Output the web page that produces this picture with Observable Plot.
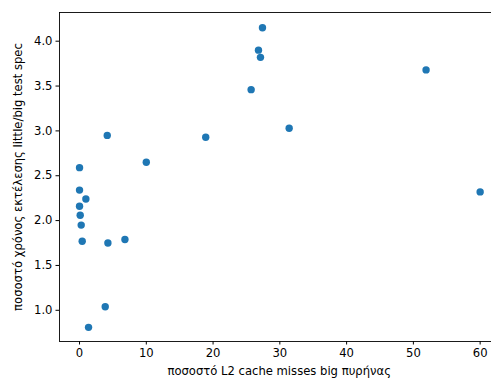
<!DOCTYPE html>
<html>
<head>
<meta charset="utf-8">
<script src="https://cdn.jsdelivr.net/npm/d3@7"></script>
<script src="https://cdn.jsdelivr.net/npm/@observablehq/plot@0.6"></script>
<style>
  html, body { margin: 0; padding: 0; background: #fff; overflow: hidden; }
  #chart svg { display: block; font-family: "DejaVu Sans", sans-serif; }
</style>
</head>
<body>
<div id="chart"></div>
<script>
// L2 cache miss rate on the big core (%) vs little/big execution-time ratio
const missRate = [0.0, 0.0, 0.95, 4.15, 10.0, 18.9, 25.7, 27.4, 26.8, 27.1, 31.4, 51.9, 60.0, 0.0, 0.1, 0.25, 0.4, 4.25, 6.8, 3.85, 1.35];
const timeRatio = [2.59, 2.34, 2.24, 2.95, 2.65, 2.93, 3.46, 4.15, 3.90, 3.82, 3.03, 3.68, 2.32, 2.16, 2.06, 1.95, 1.77, 1.75, 1.79, 1.04, 0.81];
const xTicks = [0, 10, 20, 30, 40, 50, 60];
const yTicks = [1.0, 1.5, 2.0, 2.5, 3.0, 3.5, 4.0];
const xLabel = "ποσοστό L2 cache misses big πυρήνας";
const yLabel = "ποσοστό χρόνος εκτέλεσης little/big test spec";

const points = missRate.map((m, i) => ({miss: m, ratio: timeRatio[i]}));

const xDomain = [-3, 61.7];
const yDomain = [0.652, 4.32];
const font = "DejaVu Sans, sans-serif";
const fs = 11.6;

const chart = Plot.plot({
  width: 491,
  height: 383,
  marginLeft: 59,
  marginRight: 0,
  marginTop: 12,
  marginBottom: 42,
  style: {fontSize: fs + "px", fontFamily: font, color: "#000", background: "#fff"},
  x: {domain: xDomain},
  y: {domain: yDomain},
  marks: [
    Plot.axisX({ticks: xTicks, tickSize: 3.5, tickPadding: 3.5, label: null, fontSize: fs, tickFormat: d3.format("d")}),
    Plot.axisY({ticks: yTicks, tickSize: 3.5, tickPadding: 3.5, label: null, fontSize: fs, tickFormat: d3.format(".1f")}),
    Plot.text([xLabel], {text: d => d, frameAnchor: "bottom", textAnchor: "middle", dx: 3.7, dy: 33, fontSize: fs, fill: "#000"}),
    Plot.text([yLabel], {text: d => d, frameAnchor: "left", textAnchor: "middle", rotate: -90, dx: -41, fontSize: fs, fill: "#000"}),
    Plot.ruleX([xDomain[0]], {stroke: "#000", strokeWidth: 0.9}),
    Plot.ruleY(yDomain, {stroke: "#000", strokeWidth: 0.9}),
    Plot.dot(points, {x: "miss", y: "ratio", r: 3.7, fill: "#1f77b4", stroke: "none"})
  ]
});
document.getElementById("chart").appendChild(chart);
</script>
</body>
</html>
